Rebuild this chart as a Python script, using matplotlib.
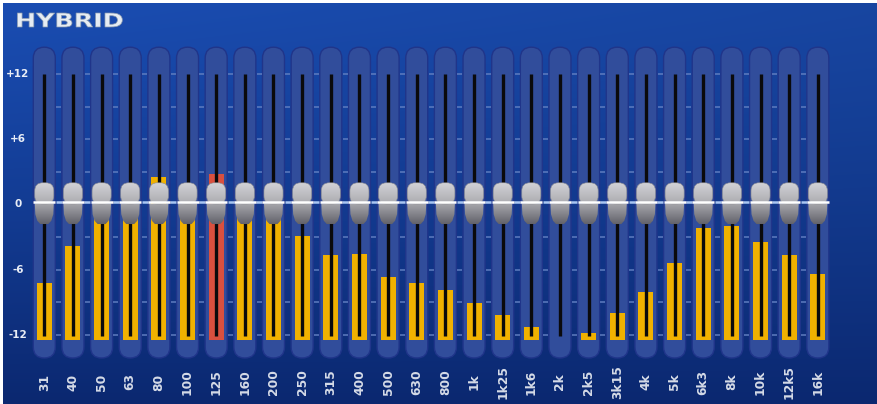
import numpy as np
import matplotlib
matplotlib.use('Agg')
import matplotlib.pyplot as plt
from matplotlib.patches import FancyBboxPatch, Polygon, PathPatch
from matplotlib.collections import LineCollection
from matplotlib.textpath import TextPath
from matplotlib.font_manager import FontProperties
from matplotlib.transforms import Affine2D, IdentityTransform
from matplotlib.colors import to_rgb

# ---------------- data ----------------
bands = ['31', '40', '50', '63', '80', '100', '125', '160', '200', '250',
         '315', '400', '500', '630', '800', '1k', '1k25', '1k6', '2k', '2k5',
         '3k15', '4k', '5k', '6k3', '8k', '10k', '12k5', '16k']
levels = [-7.2, -3.8, -1.0, -1.0, 2.5, -1.0, 2.8, -1.0, -1.0, -2.9,
          -4.7, -4.6, -6.7, -7.2, -7.9, -9.1, -10.2, -11.3, -12.5, -11.8,
          -10.0, -8.1, -5.4, -2.2, -2.0, -3.5, -4.7, -6.4]
knobs = [0.0] * len(bands)
highlight = ['125']
y_ticks = [12, 6, 0, -6, -12]
y_labels = ['+12', '+6', '0', '-6', '-12']
minor_ticks = [-12, -9, -6, -3, 3, 6, 9, 12]
floor_db = -12.5
title = 'HYBRID'

# ---------------- figure / scales ----------------
W, H = 878, 404
fig = plt.figure(figsize=(W / 100, H / 100), dpi=100, facecolor='white')
ax = fig.add_axes([0, 0, 1, 1])
XL = (-1.546, 29.10)
YL = (-18.39, 18.85)
PX = (XL[1] - XL[0]) / W          # x data units per pixel
PY = (YL[1] - YL[0]) / H          # y data units per pixel
ASP = PY / PX


def xpx(p):
    return XL[0] + p * PX


def ypx(p):  # pixel from top
    return YL[1] - p * PY


ax.set_xlim(*XL)
ax.set_ylim(*YL)
ax.axis('off')

# background gradient
top = np.array(to_rgb('#1a4db2'))
bot = np.array(to_rgb('#0b2870'))
hh, ww = 200, 300
v = np.linspace(0, 1, hh)[:, None, None]
u = np.linspace(0, 1, ww)[None, :, None]
grad = top * (1 - v ** 1.1) + bot * v ** 1.1
grad = grad * (1 - 0.10 * u * (1 - v))
grad = np.clip(grad, 0, 1)
ax.imshow(grad, extent=[xpx(3), XL[1], YL[0], ypx(3)], aspect='auto', zorder=0,
          interpolation='bilinear')

idx = np.arange(len(bands))

# slots
for i in idx:
    slot = FancyBboxPatch((i - 11 * PX, -14.15), 22 * PX, 28.65,
                          boxstyle=f"round,pad=0,rounding_size={11 * PX}",
                          mutation_aspect=ASP, fc='#314d9b', ec='#20358a',
                          lw=1.0, zorder=1)
    ax.add_patch(slot)

# gap tick dashes
segs = []
for i in idx[:-1]:
    x = i + 0.5
    for d in minor_ticks:
        segs.append([(x - 2.5 * PX, d), (x + 2.5 * PX, d)])
ax.add_collection(LineCollection(segs, colors='#5e7cbf', linewidths=1.1, zorder=2))
zsegs = [[(i + 0.5 - 3 * PX, 0.25), (i + 0.5 + 3 * PX, 0.25)] for i in idx[:-1]]
ax.add_collection(LineCollection(zsegs, colors='#a9c6f2', linewidths=1.8, zorder=2))

# level bars
colors = ['#d9503f' if b in highlight else '#f0b100' for b in bands]
heights = [lv - floor_db for lv in levels]
ax.bar(idx, heights, bottom=floor_db, width=15 * PX, color=colors, zorder=3,
       linewidth=0)

# slider tracks
ax.vlines(idx, -12.15, 12, color='#0a0a0c', lw=2.4, zorder=4)


# knobs
def grad_fill(patch, c1, c2, x0, x1, y0, y1, z):
    ax.add_patch(patch)
    g = np.linspace(0, 1, 40)[:, None, None]
    arr = np.array(to_rgb(c1)) * (1 - g) + np.array(to_rgb(c2)) * g
    im = ax.imshow(arr, extent=[x0, x1, y0, y1], aspect='auto', zorder=z,
                   interpolation='bilinear')
    im.set_clip_path(patch)


for i, k in zip(idx, knobs):
    up = FancyBboxPatch((i - 9.5 * PX, k + 0.05), 19 * PX, 1.95,
                        boxstyle=f"round,pad=0,rounding_size={8 * PX}",
                        mutation_aspect=ASP, fc='none', ec='#8c8c92', lw=0.4,
                        zorder=6)
    grad_fill(up, '#d6d6da', '#aaaaaf', i - 10 * PX, i + 10 * PX, k, k + 2.05, 5)
    lo = Polygon([(i - 9.5 * PX, k + 0.1), (i + 9.5 * PX, k + 0.1),
                  (i + 9 * PX, k - 0.9), (i + 7 * PX, k - 1.5),
                  (i + 4 * PX, k - 1.8), (i - 4 * PX, k - 1.8),
                  (i - 7 * PX, k - 1.5), (i - 9 * PX, k - 0.9)],
                 closed=True, fc='none', ec='none', zorder=6)
    grad_fill(lo, '#a8a8ad', '#5f5f68', i - 10 * PX, i + 10 * PX, k - 1.85, k + 0.1, 5)
ax.hlines([k + 0.25 for k in knobs], idx - 11 * PX, idx + 11 * PX,
          color='white', lw=1.8, zorder=7)

# y labels
for d, lab in zip(y_ticks, y_labels):
    ax.text(xpx(18), d, lab, ha='center', va='center', fontsize=7.5,
            fontweight='bold', color='#e8edf6', family='DejaVu Sans', zorder=8)

# x labels
for i, b in zip(idx, bands):
    ax.text(i, ypx(382), b, rotation=90, ha='center', va='center', fontsize=8.8,
            fontweight='bold', color='#d5dbe7', family='DejaVu Sans', zorder=8)

# title (stretched horizontally)
fp = FontProperties(family='DejaVu Sans', weight='bold')
tp = TextPath((0, 0), title, prop=fp, size=19.2)
tw = tp.get_extents().width
sx = 105 / tw
tr = Affine2D().scale(sx, 1.0).translate(15, H - 27) + IdentityTransform()
ax.add_artist(PathPatch(tp, transform=tr, fc='#e6ecf3', ec='#8898ad', lw=0.5,
                        zorder=9))

ax.set_xlim(*XL)
ax.set_ylim(*YL)
fig.savefig('out.png', dpi=100, facecolor='white')
